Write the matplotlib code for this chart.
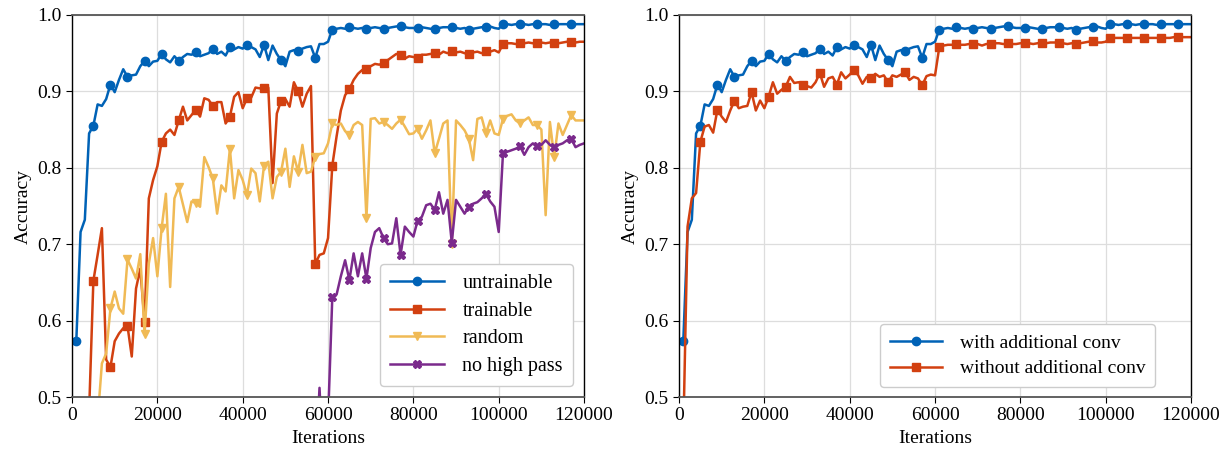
import numpy as np
import matplotlib
matplotlib.use("Agg")
import matplotlib.pyplot as plt

plt.rcParams["font.family"] = ["Liberation Serif", "DejaVu Serif"]
plt.rcParams["font.size"] = 14
plt.rcParams["mathtext.fontset"] = "stix"

# iterations, one point per 1000
iters = np.arange(1000, 121000, 1000)

untrainable = [
    0.573, 0.716, 0.732, 0.845, 0.855, 0.883, 0.881, 0.890, 0.909, 0.899,
    0.915, 0.929, 0.919, 0.921, 0.922, 0.933, 0.940, 0.933, 0.939, 0.940,
    0.949, 0.942, 0.938, 0.946, 0.940, 0.945, 0.949, 0.948, 0.951, 0.946,
    0.948, 0.950, 0.956, 0.949, 0.952, 0.947, 0.958, 0.955, 0.958, 0.956,
    0.961, 0.958, 0.955, 0.945, 0.961, 0.941, 0.960, 0.949, 0.941, 0.933,
    0.952, 0.954, 0.953, 0.956, 0.958, 0.959, 0.944, 0.962, 0.962, 0.965,
    0.981, 0.982, 0.983, 0.982, 0.984, 0.983, 0.982, 0.983, 0.982, 0.983,
    0.984, 0.983, 0.982, 0.983, 0.984, 0.985, 0.985, 0.984, 0.983, 0.983,
    0.983, 0.984, 0.983, 0.982, 0.982, 0.983, 0.984, 0.984, 0.984, 0.983,
    0.982, 0.983, 0.981, 0.982, 0.983, 0.984, 0.984, 0.985, 0.983, 0.982,
    0.988, 0.988, 0.987, 0.988, 0.988, 0.988, 0.987, 0.988, 0.988, 0.988,
    0.988, 0.987, 0.988, 0.988, 0.988, 0.988, 0.988, 0.988, 0.988, 0.988,
]

trainable = [
    0.300, 0.340, 0.400, 0.480, 0.652, 0.686, 0.721, 0.549, 0.539, 0.573,
    0.583, 0.590, 0.593, 0.553, 0.642, 0.668, 0.598, 0.760, 0.784, 0.802,
    0.834, 0.845, 0.850, 0.843, 0.862, 0.880, 0.862, 0.869, 0.876, 0.867,
    0.891, 0.889, 0.881, 0.886, 0.886, 0.858, 0.867, 0.893, 0.899, 0.878,
    0.891, 0.892, 0.905, 0.904, 0.905, 0.905, 0.780, 0.871, 0.888, 0.890,
    0.880, 0.912, 0.900, 0.880, 0.897, 0.907, 0.674, 0.686, 0.688, 0.708,
    0.803, 0.841, 0.875, 0.895, 0.903, 0.915, 0.923, 0.928, 0.929, 0.933,
    0.936, 0.935, 0.937, 0.941, 0.945, 0.949, 0.948, 0.943, 0.946, 0.945,
    0.944, 0.948, 0.948, 0.949, 0.950, 0.948, 0.952, 0.950, 0.953, 0.951,
    0.952, 0.950, 0.949, 0.951, 0.952, 0.950, 0.953, 0.952, 0.954, 0.951,
    0.962, 0.963, 0.963, 0.962, 0.963, 0.963, 0.964, 0.963, 0.963, 0.964,
    0.963, 0.964, 0.964, 0.963, 0.964, 0.965, 0.965, 0.964, 0.965, 0.965,
]

random_init = [
    0.300, 0.330, 0.360, 0.400, 0.440, 0.470, 0.544, 0.557, 0.616, 0.638,
    0.616, 0.609, 0.680, 0.668, 0.655, 0.687, 0.582, 0.675, 0.708, 0.658,
    0.721, 0.766, 0.644, 0.760, 0.775, 0.752, 0.729, 0.756, 0.754, 0.749,
    0.814, 0.801, 0.786, 0.740, 0.777, 0.769, 0.825, 0.760, 0.797, 0.784,
    0.764, 0.799, 0.793, 0.756, 0.803, 0.808, 0.760, 0.788, 0.795, 0.825,
    0.775, 0.815, 0.795, 0.830, 0.793, 0.795, 0.814, 0.818, 0.819, 0.832,
    0.858, 0.856, 0.858, 0.848, 0.843, 0.856, 0.860, 0.856, 0.734, 0.864,
    0.865, 0.858, 0.860, 0.856, 0.851, 0.858, 0.863, 0.854, 0.844, 0.845,
    0.851, 0.838, 0.849, 0.862, 0.819, 0.838, 0.858, 0.862, 0.700, 0.862,
    0.856, 0.849, 0.838, 0.810, 0.864, 0.866, 0.845, 0.862, 0.845, 0.843,
    0.864, 0.868, 0.870, 0.862, 0.858, 0.862, 0.866, 0.856, 0.856, 0.850,
    0.738, 0.860, 0.814, 0.858, 0.843, 0.856, 0.869, 0.862, 0.862, 0.862,
]

# no high pass run, from 53000 on (earlier values sit below the axis)
no_high_pass = [
    0.300, 0.350, 0.380, 0.420, 0.400, 0.512, 0.400, 0.470, 0.631, 0.634,
    0.658, 0.679, 0.653, 0.688, 0.658, 0.688, 0.655, 0.695, 0.716, 0.721,
    0.708, 0.700, 0.701, 0.734, 0.686, 0.723, 0.716, 0.710, 0.731, 0.736,
    0.751, 0.753, 0.745, 0.768, 0.740, 0.758, 0.702, 0.758, 0.749, 0.740,
    0.749, 0.753, 0.755, 0.760, 0.766, 0.756, 0.749, 0.716, 0.819, 0.821,
    0.823, 0.825, 0.828, 0.817, 0.827, 0.832, 0.828, 0.830, 0.836, 0.830,
    0.827, 0.830, 0.832, 0.836, 0.838, 0.827, 0.830, 0.832,
]

without_conv = [
    0.450, 0.723, 0.760, 0.767, 0.834, 0.854, 0.856, 0.846, 0.876, 0.867,
    0.860, 0.875, 0.888, 0.878, 0.880, 0.881, 0.899, 0.875, 0.888, 0.878,
    0.893, 0.912, 0.897, 0.902, 0.906, 0.919, 0.911, 0.912, 0.909, 0.907,
    0.905, 0.912, 0.924, 0.906, 0.917, 0.919, 0.909, 0.925, 0.917, 0.922,
    0.928, 0.921, 0.910, 0.919, 0.917, 0.923, 0.919, 0.921, 0.912, 0.921,
    0.919, 0.922, 0.925, 0.915, 0.919, 0.917, 0.908, 0.920, 0.922, 0.921,
    0.958, 0.960, 0.961, 0.961, 0.962, 0.961, 0.961, 0.962, 0.962, 0.962,
    0.960, 0.962, 0.962, 0.963, 0.963, 0.962, 0.963, 0.962, 0.962, 0.963,
    0.963, 0.963, 0.962, 0.963, 0.964, 0.963, 0.964, 0.964, 0.964, 0.963,
    0.962, 0.963, 0.962, 0.963, 0.964, 0.965, 0.966, 0.964, 0.964, 0.965,
    0.970, 0.970, 0.970, 0.970, 0.970, 0.970, 0.970, 0.970, 0.970, 0.970,
    0.970, 0.970, 0.970, 0.970, 0.970, 0.971, 0.971, 0.971, 0.971, 0.971,
]

BLUE = "#0062B6"
RED = "#D24010"
YELLOW = "#F0BA55"
PURPLE = "#7B2A8C"

fig = plt.figure(figsize=(12.27, 4.49), dpi=100)
ax1 = fig.add_axes([0.0587, 0.1158, 0.4173, 0.8508])
ax2 = fig.add_axes([0.5534, 0.1158, 0.4173, 0.8508])

line_kw = dict(linewidth=1.8, markevery=4, markersize=6)

ax1.plot(iters, untrainable, color=BLUE, marker="o", label="untrainable", **line_kw)
ax1.plot(iters, trainable, color=RED, marker="s", label="trainable", **line_kw)
ax1.plot(iters, random_init, color=YELLOW, marker="v", label="random", **line_kw)
ax1.plot(iters[52:], no_high_pass, color=PURPLE, marker="X", label="no high pass", **line_kw)

ax2.plot(iters, untrainable, color=BLUE, marker="o", label="with additional conv", **line_kw)
ax2.plot(iters, without_conv, color=RED, marker="s", label="without additional conv", **line_kw)

legend_anchor = {ax1: (0.9785, 0.029), ax2: (0.9297, 0.026)}
legend_size = {ax1: 14.5, ax2: 14}

for ax in (ax1, ax2):
    ax.set_xlim(0, 120000)
    ax.set_ylim(0.5, 1.0)
    ax.set_xticks(np.arange(0, 120001, 20000))
    ax.set_yticks([0.5, 0.6, 0.7, 0.8, 0.9, 1.0])
    ax.set_yticklabels(["0.5", "0.6", "0.7", "0.8", "0.9", "1.0"])
    ax.grid(True, color="#dddddd", linewidth=0.9)
    ax.set_axisbelow(True)
    ax.set_xlabel("Iterations", fontsize=14, labelpad=4)
    ax.set_ylabel("Accuracy", fontsize=14, labelpad=4)
    ax.tick_params(labelsize=14, length=4)
    for side in ("top", "bottom"):
        ax.spines[side].set_color("#555555")
        ax.spines[side].set_linewidth(1.3)
    for side in ("left", "right"):
        ax.spines[side].set_color("black")
        ax.spines[side].set_linewidth(1.0)
    ax.legend(loc="lower right", fontsize=legend_size[ax], handlelength=2.7,
              borderpad=0.5, labelspacing=0.42, handletextpad=0.9,
              framealpha=1.0, edgecolor="#cccccc", fancybox=True,
              borderaxespad=0, bbox_to_anchor=legend_anchor[ax])

fig.savefig("out.png", dpi=100)
